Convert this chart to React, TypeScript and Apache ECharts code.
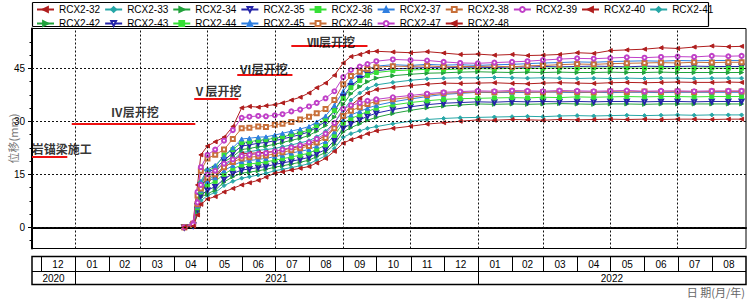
import React, { useEffect, useRef } from 'react';
import * as echarts from 'echarts';

const dates = [
  '2021-04-10', '2021-04-18', '2021-04-22', '2021-04-25', '2021-05-01', '2021-05-08', '2021-05-16', '2021-05-24',
  '2021-06-01', '2021-06-08', '2021-06-16', '2021-06-23', '2021-07-01', '2021-07-08', '2021-07-16', '2021-07-24',
  '2021-08-01', '2021-08-08', '2021-08-16', '2021-08-24', '2021-09-01', '2021-09-08', '2021-09-16', '2021-09-23',
  '2021-10-01', '2021-10-16', '2021-11-01', '2021-11-16', '2021-12-01', '2021-12-16', '2022-01-01', '2022-01-16',
  '2022-02-01', '2022-02-15', '2022-03-01', '2022-03-16', '2022-04-01', '2022-04-16', '2022-05-01', '2022-05-16',
  '2022-06-01', '2022-06-16', '2022-07-01', '2022-07-16', '2022-08-01', '2022-08-16', '2022-08-28',
];

const vals32 = [0, 1.5, 12, 20.5, 23, 24.2, 25.5, 28.5, 33.8, 34.2, 34, 34.4, 34.7, 35.2, 36, 36.8, 38, 39.5, 40.8, 43, 46.5, 48.3, 48.9, 49.6, 49.8, 49.6, 49.4, 49.7, 49.3, 48.9, 49, 48.7, 48.9, 48.6, 48.7, 48.9, 49.4, 49.2, 50, 50.2, 50.4, 50.8, 50.6, 51, 51.3, 51.1, 51.2];
const vals33 = [0, 0.4, 5, 10, 13.5, 14.5, 17.5, 19, 21.2, 21.4, 21.8, 22, 22.3, 22.8, 23.3, 23.9, 24.5, 25.6, 27.2, 29.5, 33, 36, 38, 39.3, 40.3, 41, 41.6, 42, 42.2, 42.3, 42.3, 42.4, 42.3, 42.2, 42.3, 42.2, 42.1, 42.2, 42.1, 42.2, 42.1, 42.2, 42.2, 42.1, 42.2, 42.2, 42.2];
const vals34 = [0, 0.5, 5.5, 11, 14.5, 15.5, 18.5, 20, 22, 22.3, 22.8, 23, 23.5, 24, 24.6, 25.2, 26, 27.2, 28.8, 31.2, 34.8, 37.8, 39.8, 41.2, 42.2, 42.9, 43.3, 43.6, 43.7, 43.9, 44, 43.9, 43.8, 43.9, 43.8, 43.9, 43.8, 43.8, 43.9, 43.8, 43.8, 43.9, 43.8, 43.8, 43.8, 43.8, 43.8];
const vals35 = [0, 0.6, 6, 12, 15.5, 16.5, 19, 21, 23, 23.3, 23.8, 24, 24.5, 25, 25.6, 26.2, 27, 28.3, 30, 33, 37, 40, 42, 43.3, 44.3, 44.8, 45, 45.2, 45.1, 45.3, 45.3, 45.2, 45.4, 45.3, 45.5, 45.4, 45.5, 45.6, 45.5, 45.4, 45.6, 45.5, 45.5, 45.6, 45.5, 45.5, 45.5];
const vals36 = [0, 0.7, 6.5, 12.5, 16, 17, 20.5, 22, 24, 24.2, 24.6, 24.8, 25.2, 25.6, 26.2, 26.8, 27.5, 28.8, 30.5, 33, 36.5, 39.5, 41.5, 43, 43.8, 44.3, 44.5, 44.7, 44.6, 44.8, 44.9, 44.8, 45, 44.9, 45, 45.1, 45, 45.1, 45, 45.1, 45, 45.1, 45, 45, 45.1, 45, 45];
const vals37 = [0, 0.8, 7, 13, 16.5, 17.5, 20, 22.5, 25, 25.2, 25.5, 25.6, 26.1, 26.6, 27.2, 27.8, 28.5, 29.8, 31.5, 34.5, 38.5, 41.5, 43.5, 44.8, 45.6, 46, 45.8, 46.1, 45.9, 46, 45.8, 46, 46.1, 46.3, 46.5, 46.6, 46.8, 46.7, 46.9, 47, 47.1, 47, 47.2, 47.1, 47.2, 47.2, 47.2];
const vals38 = [0, 1, 9, 16, 19.5, 20.5, 22, 25, 28, 28.2, 28.5, 28.4, 29, 29.3, 29.8, 30.5, 31.3, 32.3, 33.5, 36, 40.5, 42.8, 44, 44.8, 45.3, 45.6, 45.5, 45.7, 45.4, 45.5, 45.5, 45.6, 45.4, 45.7, 45.8, 46, 46.2, 46.1, 46.3, 46.4, 46.5, 46.6, 46.5, 46.7, 46.6, 46.7, 46.7];
const vals39 = [0, 1.2, 10, 17, 20.5, 22, 24.5, 27.5, 31, 31.3, 31.5, 31.4, 31.7, 32, 32.8, 33.3, 34.2, 35.2, 36.5, 38.5, 42.5, 44.5, 45.5, 46.2, 47, 47.5, 47.3, 47.2, 46.8, 46.5, 46.4, 46.6, 46.8, 47, 47.3, 47.6, 47.8, 47.7, 47.9, 48.1, 48, 48.2, 48.3, 48.2, 48.5, 48.4, 48.5];
const vals40 = [0, 0.4, 4.8, 9.5, 13, 14, 17, 18.5, 20.8, 20.9, 21.1, 21.2, 21.5, 21.9, 22.4, 22.9, 23.5, 24.5, 26, 28.2, 31.5, 34.5, 36.5, 38, 39, 39.6, 40.1, 40.5, 40.8, 40.7, 40.8, 40.9, 40.7, 40.6, 40.8, 40.9, 40.8, 40.7, 40.9, 41, 40.9, 41, 41.1, 41, 41, 41.1, 41];
const vals41 = [0, 0.3, 4, 7.5, 9, 9.8, 11.8, 13, 13.9, 14.3, 14.8, 15.3, 16, 16.4, 16.9, 17.4, 18, 19, 20.2, 22.3, 25.5, 26.5, 27.3, 28, 28.5, 29.3, 30, 30.5, 30.8, 31, 31.1, 31.2, 31.3, 31.4, 31.3, 31.5, 31.6, 31.5, 31.6, 31.7, 31.6, 31.7, 31.8, 31.7, 31.8, 31.8, 31.8];
const vals42 = [0, 0.4, 4.5, 8.5, 9.5, 10.5, 12.8, 14.3, 15.3, 15.6, 16, 16.4, 17, 17.4, 17.9, 18.4, 19, 20, 21.2, 23.5, 27, 28.2, 29.3, 30.3, 31.1, 32.2, 33.1, 33.8, 34.3, 34.6, 34.9, 34.8, 34.9, 34.8, 34.9, 35, 34.9, 34.8, 34.9, 34.9, 34.8, 34.9, 34.9, 34.9, 34.9, 34.9, 34.9];
const vals43 = [0, 0.5, 5, 9, 10.5, 11.5, 13.6, 15.2, 16.2, 16.5, 16.9, 17.2, 17.8, 18.2, 18.7, 19.2, 19.8, 20.8, 22, 24.5, 28, 29.3, 30.4, 31.4, 32.3, 33.3, 34.1, 34.7, 35.1, 35.3, 35.5, 35.4, 35.6, 35.5, 35.6, 35.5, 35.6, 35.5, 35.6, 35.6, 35.5, 35.6, 35.6, 35.5, 35.6, 35.6, 35.6];
const vals44 = [0, 0.5, 5.5, 10, 12, 13, 15, 16.6, 17.6, 17.9, 18.2, 18.5, 19, 19.4, 19.9, 20.4, 21, 22, 23.3, 26, 29.5, 30.8, 31.8, 32.8, 33.7, 34.6, 35.3, 35.8, 36.2, 36.4, 36.5, 36.6, 36.7, 36.6, 36.8, 36.7, 36.9, 36.8, 36.9, 37, 36.9, 37, 37, 36.9, 37, 37, 37];
const vals45 = [0, 0.6, 6, 10.5, 13, 14, 16, 17.5, 18.6, 18.9, 19.2, 19.5, 20, 20.4, 21, 21.5, 22, 23, 24.3, 27, 30.5, 31.8, 32.8, 33.7, 34.5, 35.5, 36.3, 37, 37.6, 37.9, 38.2, 38.1, 38.2, 38.1, 38.3, 38.2, 38.1, 38.2, 38.1, 38.2, 38.2, 38.1, 38.2, 38.2, 38.2, 38.2, 38.2];
const vals46 = [0, 0.7, 6.5, 11, 14, 15, 17, 18.5, 19.5, 19.8, 20.1, 20.3, 20.8, 21.2, 21.8, 22.4, 23, 24, 25.3, 28, 31.5, 33, 34, 34.9, 35.6, 36.2, 36.8, 37.4, 37.9, 38.1, 38.3, 38.2, 38.4, 38.3, 38.2, 38.4, 38.3, 38.2, 38.4, 38.3, 38.4, 38.3, 38.4, 38.3, 38.4, 38.4, 38.4];
const vals47 = [0, 0.8, 7, 12, 15, 16, 18, 19.2, 20.2, 20.5, 20.8, 21, 21.5, 22, 22.6, 23.2, 24, 25, 26.5, 29.5, 33.5, 34.5, 35.2, 35.8, 36.2, 36.8, 37.3, 37.8, 38.2, 38.4, 38.6, 38.5, 38.7, 38.6, 38.5, 38.7, 38.6, 38.5, 38.6, 38.7, 38.5, 38.6, 38.6, 38.5, 38.6, 38.6, 38.6];
const vals48 = [0, 0.3, 3.5, 6.5, 8, 8.7, 10, 11, 12, 12.6, 13.3, 14.2, 15.3, 15.7, 16.2, 16.7, 17.2, 18.2, 19.5, 21.5, 23.8, 24.8, 25.6, 26.5, 27.3, 28, 28.6, 29.2, 29.6, 30, 30.4, 30.3, 30.5, 30.4, 30.3, 30.5, 30.4, 30.5, 30.6, 30.5, 30.6, 30.5, 30.6, 30.6, 30.5, 30.6, 30.6];

const seriesNames = [
  'RCX2-32', 'RCX2-33', 'RCX2-34', 'RCX2-35', 'RCX2-36', 'RCX2-37', 'RCX2-38', 'RCX2-39', 'RCX2-40',
  'RCX2-41', 'RCX2-42', 'RCX2-43', 'RCX2-44', 'RCX2-45', 'RCX2-46', 'RCX2-47', 'RCX2-48',
];
const seriesValues = [vals32, vals33, vals34, vals35, vals36, vals37, vals38, vals39, vals40, vals41, vals42, vals43, vals44, vals45, vals46, vals47, vals48];

const phaseLabels = ['岩锚梁施工', 'Ⅳ层开挖', 'Ⅴ层开挖', 'Ⅵ层开挖', 'Ⅶ层开挖'];
const phaseStart = ['2020-11-23', '2020-12-29', '2021-04-19', '2021-05-28', '2021-07-16'];
const phaseEnd = ['2020-12-25', '2021-04-20', '2021-05-29', '2021-07-17', '2021-09-23'];
const phaseLevel = [20, 29.2, 36.3, 43.1, 51.3];
const phaseLabelDate = ['2020-12-20', '2021-02-24', '2021-05-10', '2021-06-21', '2021-08-21'];
const phaseLabelLevel = [22.4, 32.7, 38.6, 45, 52.7];

const gridDates = ['2021-01-01', '2021-03-01', '2021-05-01', '2021-07-01', '2021-09-01', '2021-11-01', '2022-01-01', '2022-03-01', '2022-05-01', '2022-07-01'];
const yTicks = [0, 15, 30, 45];
const yMinorTicks = [-3.75, 3.75, 7.5, 11.25, 18.75, 22.5, 26.25, 33.75, 37.5, 41.25, 48.75, 52.5];

const axisStart = '2020-11-23';
const axisEnd = '2022-09-01';
const monthStarts = [
  '2020-12-01', '2021-01-01', '2021-02-01', '2021-03-01', '2021-04-01', '2021-05-01', '2021-06-01', '2021-07-01',
  '2021-08-01', '2021-09-01', '2021-10-01', '2021-11-01', '2021-12-01', '2022-01-01', '2022-02-01', '2022-03-01',
  '2022-04-01', '2022-05-01', '2022-06-01', '2022-07-01', '2022-08-01',
];
const monthLabels = ['12', '01', '02', '03', '04', '05', '06', '07', '08', '09', '10', '11', '12', '01', '02', '03', '04', '05', '06', '07', '08'];
const yearStarts = ['2020-11-23', '2021-01-01', '2022-01-01'];
const yearLabels = ['2020', '2021', '2022'];

const palette = ['#b01e1e', '#27a7a7', '#22a23c', '#2424a8', '#36e036', '#2f7fe0', '#c8703a', '#c040c8'];
const symbolDefs: [string, number][] = [
  ['triangle', 90], ['diamond', 0], ['triangle', -90], ['emptyTriangle', 180],
  ['rect', 0], ['triangle', 0], ['emptyRect', 0], ['emptyCircle', 0],
];

const FONT = '"Liberation Sans", Arial, sans-serif';

function parseLocal(s: string): number {
  const [y, m, d] = s.split('-').map(Number);
  return new Date(y, m - 1, d).getTime();
}

export default function App() {
  const ref = useRef<HTMLDivElement>(null);
  useEffect(() => {
    document.body.style.margin = '0';
    if (!ref.current) return;
    const chart = echarts.init(ref.current, undefined, { renderer: 'svg' });

    const lineSeries = seriesNames.map((name, i) => {
      const [sym, rot] = symbolDefs[i % 8];
      return {
        name,
        type: 'line',
        data: dates.map((d, k) => [parseLocal(d), seriesValues[i][k]]),
        symbol: sym,
        symbolRotate: rot,
        symbolSize: 4,
        showSymbol: true,
        color: palette[i % 8],
        lineStyle: { width: 1, color: palette[i % 8] },
        itemStyle: { color: palette[i % 8], borderColor: palette[i % 8], borderWidth: 1 },
        emphasis: { disabled: true },
        z: 3,
      };
    });

    chart.setOption({
      animation: false,
      grid: {
        left: 32, right: 3, top: 28.5, bottom: 51.5,
        outerBoundsMode: 'none', containLabel: false,
        show: true, borderColor: '#000', borderWidth: 1, backgroundColor: 'transparent',
      },
      legend: {
        orient: 'horizontal',
        left: 32.5,
        top: 2.5,
        width: 690,
        padding: [2, 2, 2, 3.5],
        itemWidth: 17,
        itemHeight: 6,
        itemGap: 4,
        textStyle: { fontSize: 10, lineHeight: 8, color: '#000', fontFamily: FONT },
        selectedMode: false,
        data: seriesNames,
      },
      xAxis: {
        type: 'time',
        min: parseLocal(axisStart),
        max: parseLocal(axisEnd),
        axisLine: { show: true, lineStyle: { color: '#000', width: 2 } },
        axisTick: { show: false },
        axisLabel: { show: false },
        splitLine: { show: false },
      },
      yAxis: [
        {
          type: 'value', min: -6, max: 56.25, position: 'left',
          axisLine: { show: true, lineStyle: { color: '#000', width: 2 } },
          axisTick: { show: true, customValues: yTicks, length: 4, lineStyle: { color: '#000' } },
          axisLabel: { show: true, customValues: yTicks, color: '#000', fontSize: 10, fontFamily: FONT, margin: 7 },
          splitLine: { show: false },
          name: '位移(mm)', nameLocation: 'middle', nameGap: 14, nameMoveOverlap: false,
          nameTextStyle: { color: '#777', fontSize: 11, fontFamily: '"Noto Sans CJK SC", sans-serif' },
        },
        {
          type: 'value', min: -6, max: 56.25, position: 'left',
          axisLine: { show: false },
          axisTick: { show: true, customValues: yMinorTicks, length: 2.5, lineStyle: { color: '#000' } },
          axisLabel: { show: false },
          splitLine: { show: false },
        },
      ],
      series: [
        {
          name: 'gridlines', type: 'line', data: [], silent: true, z: 1,
          markLine: {
            silent: true, symbol: ['none', 'none'], label: { show: false },
            lineStyle: { color: '#111', type: [2, 2], width: 1 },
            emphasis: { disabled: true },
            data: [
              ...gridDates.map((d) => ({ xAxis: parseLocal(d) })),
              ...yTicks.map((v) => ({ yAxis: v })),
            ],
          },
        },
        ...lineSeries,
        {
          name: 'phases', type: 'scatter', symbolSize: 0, silent: true, z: 5,
          data: phaseLabels.map((lab, i) => ({ name: lab, value: [parseLocal(phaseLabelDate[i]), phaseLabelLevel[i]] })),
          label: {
            show: true, position: 'inside', formatter: '{b}', color: '#000', fontSize: 12, fontWeight: 'bold',
            fontFamily: '"Noto Sans CJK SC", serif',
          },
          markLine: {
            silent: true, symbol: ['none', 'none'], label: { show: false },
            lineStyle: { color: '#ee1111', type: 'solid', width: 2 },
            emphasis: { disabled: true },
            data: phaseLabels.map((_, i) => [
              { coord: [parseLocal(phaseStart[i]), phaseLevel[i]] },
              { coord: [parseLocal(phaseEnd[i]), phaseLevel[i]] },
            ]),
          },
        },
      ],
    });

    const px = (s: string) => chart.convertToPixel({ xAxisIndex: 0 }, parseLocal(s)) as number;
    const left = px(axisStart);
    const right = px(axisEnd);
    const T0 = 256.5, T1 = 271.5, T2 = 284.5;
    const els: any[] = [];
    const LB = { l: 32.5, t: 2.5, r: 708.5, b: 26.5 };
    const boxStyle = { stroke: '#000', lineWidth: 1.2 };
    els.push({ type: 'line', shape: { x1: LB.l, y1: LB.t, x2: LB.r, y2: LB.t }, style: boxStyle });
    els.push({ type: 'line', shape: { x1: LB.l, y1: LB.b, x2: LB.r, y2: LB.b }, style: boxStyle });
    els.push({ type: 'line', shape: { x1: LB.l, y1: LB.t, x2: LB.l, y2: LB.b }, style: boxStyle });
    els.push({ type: 'line', shape: { x1: LB.r, y1: LB.t, x2: LB.r, y2: LB.b }, style: boxStyle });
    els.push({ type: 'rect', shape: { x: left, y: T0, width: right - left, height: T2 - T0 }, style: { fill: 'none', stroke: '#000', lineWidth: 1.5 } });
    els.push({ type: 'line', shape: { x1: left, y1: T1, x2: right, y2: T1 }, style: { stroke: '#000', lineWidth: 1 } });
    monthStarts.forEach((m, i) => {
      const x0 = px(m);
      const x1 = i + 1 < monthStarts.length ? px(monthStarts[i + 1]) : right;
      els.push({ type: 'line', shape: { x1: Math.round(x0) + 0.5, y1: T0, x2: Math.round(x0) + 0.5, y2: T1 }, style: { stroke: '#000', lineWidth: 1 } });
      els.push({
        type: 'text', x: (x0 + x1) / 2, y: (T0 + T1) / 2 + 0.5,
        style: { text: monthLabels[i], fill: '#000', fontSize: 10, fontFamily: FONT, align: 'center', verticalAlign: 'middle' },
      });
    });
    yearStarts.forEach((y, i) => {
      const x0 = i === 0 ? left : px(y);
      const x1 = i + 1 < yearStarts.length ? px(yearStarts[i + 1]) : right;
      if (i > 0) {
        els.push({ type: 'line', shape: { x1: Math.round(x0) + 0.5, y1: T1, x2: Math.round(x0) + 0.5, y2: T2 }, style: { stroke: '#000', lineWidth: 1 } });
      }
      els.push({
        type: 'text', x: (x0 + x1) / 2, y: (T1 + T2) / 2 + 0.5,
        style: { text: yearLabels[i], fill: '#000', fontSize: 10, fontFamily: FONT, align: 'center', verticalAlign: 'middle' },
      });
    });
    els.push({
      type: 'text', x: 745, y: 292,
      style: { text: '日 期(月/年)', fill: '#666', fontSize: 11, fontFamily: '"Noto Sans CJK SC", sans-serif', align: 'right', verticalAlign: 'middle' },
    });
    chart.setOption({ graphic: { elements: els } });

    return () => chart.dispose();
  }, []);
  return <div ref={ref} style={{ width: 749, height: 300 }} />;
}
